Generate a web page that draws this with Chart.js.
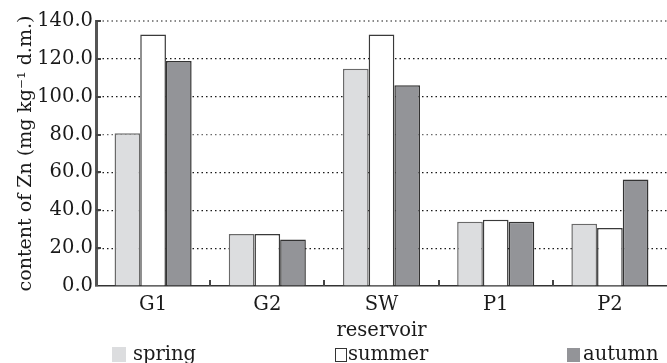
<!DOCTYPE html>
<html>
<head>
<meta charset="utf-8">
<script src="https://cdn.jsdelivr.net/npm/chart.js@4/dist/chart.umd.min.js"></script>
<style>
  html, body { margin: 0; padding: 0; background: #fff; }
</style>
</head>
<body>
<canvas id="c" width="667" height="363"></canvas>
<script>
// Zn content per reservoir and season (mg kg-1 d.m.)
const reservoirs = ['G1', 'G2', 'SW', 'P1', 'P2'];
const seasons = ['spring', 'summer', 'autumn'];
const spring = [80.7, 27.5, 114.8, 34.0, 32.9];
const summer = [132.9, 27.5, 132.9, 35.0, 30.6];
const autumn = [118.9, 24.6, 106.1, 34.0, 56.3];
const yMin = 0, yMax = 140, yStep = 20;

const FONT = "'DejaVu Serif', 'Liberation Serif', serif";
const TXT = '#1a1a1a';

Chart.defaults.font.family = FONT;
Chart.defaults.color = TXT;

// short inward tick stubs on both axes
const axisStubs = {
  id: 'axisStubs',
  afterDatasetsDraw(chart) {
    const { ctx, scales: { x, y }, chartArea: a } = chart;
    ctx.save();
    ctx.strokeStyle = '#444';
    ctx.lineWidth = 2;
    y.ticks.forEach(t => {
      if (t.value === yMin) return;
      const py = Math.round(y.getPixelForValue(t.value));
      ctx.beginPath();
      ctx.moveTo(a.left, py);
      ctx.lineTo(a.left + 5, py);
      ctx.stroke();
    });
    for (let i = 0; i < reservoirs.length - 1; i++) {
      const px = Math.round((x.getPixelForTick(i) + x.getPixelForTick(i + 1)) / 2);
      ctx.beginPath();
      ctx.moveTo(px, a.bottom);
      ctx.lineTo(px, a.bottom - 6);
      ctx.stroke();
    }
    ctx.restore();
  }
};

// legend row along the bottom edge
const legendRow = {
  id: 'legendRow',
  afterDraw(chart) {
    const { ctx } = chart;
    const slots = [
      { box: [112, 347, 14, 15], textX: 133 },
      { box: [335, 348, 12, 14], textX: 348 },
      { box: [567, 348, 13, 14], textX: 583 }
    ];
    ctx.save();
    ctx.font = '19.5px ' + FONT;
    ctx.textBaseline = 'alphabetic';
    ctx.textAlign = 'left';
    chart.data.datasets.forEach((ds, i) => {
      const s = slots[i];
      ctx.fillStyle = ds.backgroundColor;
      ctx.fillRect(s.box[0], s.box[1], s.box[2], s.box[3]);
      if (ds.backgroundColor === '#ffffff') {
        ctx.strokeStyle = '#333';
        ctx.lineWidth = 1;
        ctx.strokeRect(s.box[0] + 0.5, s.box[1] + 0.5, s.box[2] - 1, s.box[3] - 1);
      }
      ctx.fillStyle = TXT;
      ctx.fillText(ds.label, s.textX, 360);
    });
    ctx.restore();
  }
};

new Chart(document.getElementById('c'), {
  type: 'bar',
  data: {
    labels: reservoirs,
    datasets: [
      { label: seasons[0], data: spring, backgroundColor: '#dcdddf', borderColor: '#6a6a6a', borderWidth: 1.5 },
      { label: seasons[1], data: summer, backgroundColor: '#ffffff', borderColor: '#3a3a3a', borderWidth: 1.5 },
      { label: seasons[2], data: autumn, backgroundColor: '#939498', borderColor: '#333333', borderWidth: 1.5 }
    ]
  },
  options: {
    responsive: false,
    animation: false,
    devicePixelRatio: 1,
    layout: { padding: { left: 0, right: 0, top: 21, bottom: 20 } },
    datasets: { bar: { categoryPercentage: 0.675, barPercentage: 1.0 } },
    plugins: { legend: { display: false }, tooltip: { enabled: false } },
    scales: {
      x: {
        grid: { display: false, drawTicks: false },
        border: { color: '#333', width: 1.5 },
        ticks: { font: { size: 19.5 }, padding: 7, color: TXT },
        title: { display: true, text: 'reservoir', font: { size: 19.5 }, color: TXT, padding: { top: 0, bottom: 0 } },
        afterFit(scale) { scale.height = 57; }
      },
      y: {
        min: yMin, max: yMax,
        grid: {
          drawTicks: false,
          color: c => c.tick.value === yMin ? 'rgba(0,0,0,0)' : (c.tick.value === yMax ? '#8a8a8a' : (c.tick.value === 80 ? '#6a6a6a' : '#1a1a1a')),
          lineWidth: c => c.tick.value === yMax ? 2 : 1.2
        },
        border: { color: '#555', width: 3, dash: [1.5, 3] },
        ticks: { stepSize: yStep, padding: 3, font: { size: 19.5 }, color: TXT, callback: v => v.toFixed(1) },
        title: { display: true, text: 'content of Zn (mg kg\u207B\u00B9 d.m.)', font: { size: 19 }, color: TXT, padding: { top: 14.5, bottom: 0 } },
        afterFit(scale) { scale.width = 96; }
      }
    }
  },
  plugins: [axisStubs, legendRow]
});
</script>
</body>
</html>
